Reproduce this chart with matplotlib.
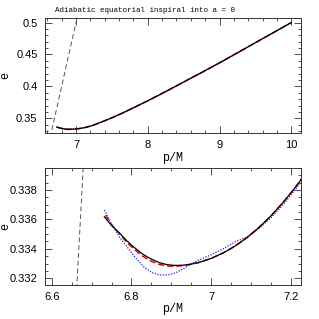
import matplotlib
matplotlib.use('Agg')
import matplotlib.pyplot as plt
import matplotlib.ticker as plticker

# separatrix p = 6 + 2e (dashed), just the two ends
sep_p = [6.64, 7.02]
sep_e = [0.32, 0.51]

# black solid curve
blk_p = [6.732, 6.75, 6.771, 6.79, 6.805, 6.825, 6.846, 6.87, 6.89, 6.91, 6.93, 6.95, 6.97,
         7.0, 7.03, 7.06, 7.09, 7.12, 7.15, 7.18, 7.21, 7.24, 7.3, 7.4, 7.5, 7.62, 7.75, 7.87,
         8.0, 8.25, 8.5, 8.75, 9.0, 9.25, 9.5, 9.75, 10.0]
blk_e = [0.33618, 0.33560, 0.33505, 0.33450, 0.33414, 0.33370, 0.33335, 0.33306, 0.33292,
         0.33287, 0.33289, 0.33296, 0.33308, 0.33335, 0.33372, 0.33419, 0.33477, 0.33546,
         0.33625, 0.33715, 0.33815, 0.33926, 0.3418, 0.3462, 0.3508, 0.3568, 0.3637, 0.3703,
         0.3774, 0.3919, 0.4068, 0.4217, 0.4369, 0.4526, 0.4684, 0.4842, 0.5000]

# red dashed curve
red_p = [6.735, 6.75, 6.771, 6.79, 6.805, 6.825, 6.846, 6.87, 6.89, 6.91, 6.93, 6.95, 6.97,
         7.0, 7.03, 7.06, 7.09, 7.12, 7.15, 7.18, 7.21, 7.24, 7.3, 7.4, 7.5, 7.62, 7.75, 7.87,
         8.0, 8.25, 8.5, 8.75, 9.0, 9.25, 9.5, 9.75, 10.0]
red_e = [0.33630, 0.33562, 0.33500, 0.33440, 0.33402, 0.33356, 0.33320, 0.33294, 0.33283,
         0.33281, 0.33286, 0.33295, 0.33308, 0.33335, 0.33372, 0.33419, 0.33477, 0.33546,
         0.33625, 0.33715, 0.33815, 0.33926, 0.3418, 0.3462, 0.3508, 0.3568, 0.3637, 0.3703,
         0.3774, 0.3919, 0.4068, 0.4217, 0.4369, 0.4526, 0.4684, 0.4842, 0.5000]

# blue dotted curve
blu_p = [6.732, 6.75, 6.77, 6.79, 6.81, 6.83, 6.85, 6.87, 6.89, 6.91, 6.93, 6.95, 6.97,
         7.0, 7.03, 7.06, 7.09, 7.12, 7.15, 7.18, 7.21, 7.24, 7.3, 7.4, 7.5, 7.62, 7.75, 7.87,
         8.0, 8.25, 8.5, 8.75, 9.0, 9.25, 9.5, 9.75, 10.0]
blu_e = [0.33664, 0.33570, 0.33480, 0.33410, 0.33340, 0.33280, 0.33240, 0.33222, 0.33222,
         0.33236, 0.33264, 0.33300, 0.33325, 0.33360, 0.33400, 0.33448, 0.33480, 0.33540,
         0.33612, 0.33700, 0.33800, 0.33910, 0.3417, 0.3461, 0.3507, 0.3568, 0.3637, 0.3703,
         0.3774, 0.3919, 0.4068, 0.4217, 0.4369, 0.4526, 0.4684, 0.4842, 0.5000]

title_txt = 'Adiabatic equatorial inspiral into a = 0'

plt.rcParams['font.family'] = ['Liberation Sans', 'DejaVu Sans']
mono = 'Liberation Mono'

fig = plt.figure(figsize=(3.19, 3.19), dpi=100)
ax1 = fig.add_axes([0.1395, 0.5821, 0.8056, 0.3605])
ax2 = fig.add_axes([0.1395, 0.1066, 0.8056, 0.3658])

for ax in (ax1, ax2):
    ax.plot(sep_p, sep_e, color='#555555', lw=0.7, dashes=(5, 3))
    ax.plot(blu_p, blu_e, color='#2020ff', lw=0.9, linestyle=(0, (1, 1.2)))
    ax.plot(red_p, red_e, color='#e00000', lw=1.1, dashes=(4, 2))
    ax.plot(blk_p, blk_e, color='black', lw=0.9)
    ax.tick_params(which='both', direction='in', top=True, right=True,
                   labelsize=8, color='#333333', width=0.6, pad=5)
    ax.tick_params(which='major', length=5)
    ax.tick_params(which='minor', length=2.5)
    for s in ax.spines.values():
        s.set_linewidth(0.7)
        s.set_color('#333333')
    ax.set_xlabel('p/M', family=mono, fontsize=8.5, labelpad=1)
    ax.set_ylabel('e', family=mono, fontsize=8.5, va='center')
    ax.yaxis.set_label_coords(-0.152, 0.5)

ax1.set_xlim(6.561, 10.142)
ax1.set_ylim(0.3265, 0.5066)
ax1.xaxis.set_major_locator(plticker.MultipleLocator(1))
ax1.xaxis.set_minor_locator(plticker.MultipleLocator(0.2))
ax1.yaxis.set_major_locator(plticker.MultipleLocator(0.05))
ax1.yaxis.set_minor_locator(plticker.MultipleLocator(0.01))
ax1.xaxis.set_major_formatter(plticker.FormatStrFormatter('%g'))
ax1.yaxis.set_major_formatter(plticker.FormatStrFormatter('%g'))

ax2.set_xlim(6.582, 7.2263)
ax2.set_ylim(0.33154, 0.33948)
ax2.xaxis.set_major_locator(plticker.MultipleLocator(0.2))
ax2.xaxis.set_minor_locator(plticker.MultipleLocator(0.05))
ax2.yaxis.set_major_locator(plticker.MultipleLocator(0.002))
ax2.yaxis.set_minor_locator(plticker.MultipleLocator(0.0005))
ax2.xaxis.set_major_formatter(plticker.FormatStrFormatter('%g'))
ax2.yaxis.set_major_formatter(plticker.FormatStrFormatter('%g'))

fig.text(55 / 319, 1 - 10 / 319, title_txt, family=mono, fontsize=5.4,
         ha='left', va='center')

fig.savefig('out.png', dpi=100)
